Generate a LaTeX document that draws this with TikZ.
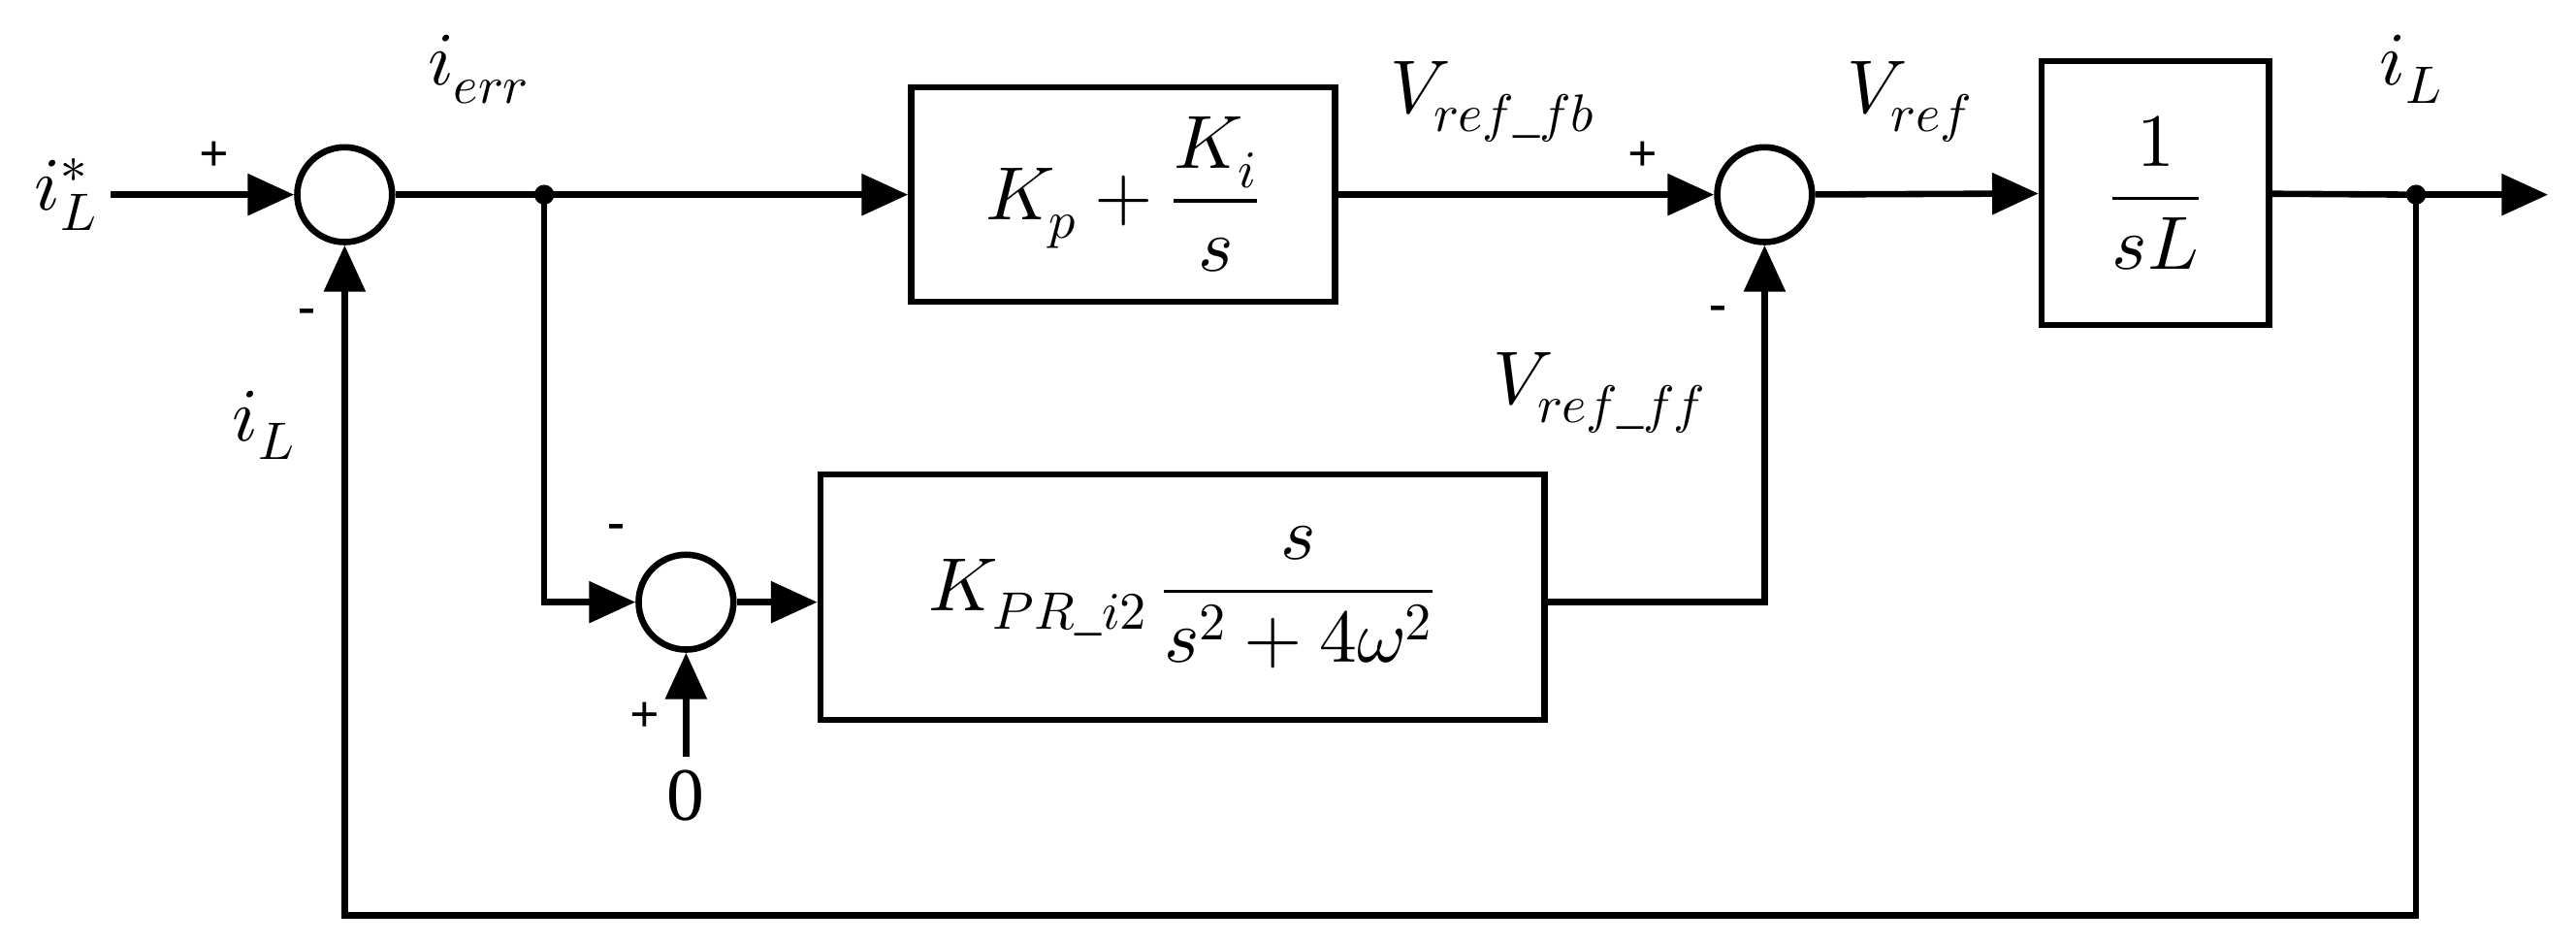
\documentclass[tikz,border=0pt]{standalone}
\usepackage{fontspec}
\setmainfont{Liberation Serif}
\usepackage{unicode-math}
\setmathfont{Latin Modern Math}
\usetikzlibrary{arrows.meta}
\begin{document}
\begin{tikzpicture}[x=0.02cm,y=-0.02cm,line width=2.2pt,
    every node/.style={font=\fontsize{26}{30}\selectfont},
    sum/.style={draw,circle,minimum size=1.15cm,inner sep=0pt},
    blk/.style={draw,rectangle,inner sep=0pt},
    pm/.style={font=\fontsize{18}{20}\selectfont\bfseries},
    arr/.style={-{Triangle[length=16pt,width=14pt]}}]
  \useasboundingbox (0,0) rectangle (1562,572);
  % main path
  \node (in) at (40,118) {$i_L^{*}$};
  \node[sum] (s1) at (209,118) {};
  \coordinate (j1) at (330,118);
  \node[blk,minimum width=5.14cm,minimum height=2.6cm] (pi) at (681,118) {$K_p+\dfrac{K_i}{s}$};
  \node[sum] (s2) at (1070,118) {};
  \node[blk,minimum width=2.76cm,minimum height=3.2cm] (pl) at (1307,117) {$\dfrac{1}{sL}$};
  \coordinate (j2) at (1465,118);
  \coordinate (out) at (1545,118);
  \draw[arr] (in.east) -- (s1);
  \draw (s1) -- (j1);
  \draw[arr] (j1) -- (pi);
  \draw[arr] (pi) -- (s2);
  \draw[arr] (s2) -- (pl);
  \draw (pl) -- (j2);
  \draw[arr] (j2) -- (out);
  \fill (j1) circle (6);
  \fill (j2) circle (6);
  % feedback
  \draw[arr] (j2) -- (1465,555) -- (209,555) -- (s1.south);
  % resonant branch
  \node[sum] (s3) at (416,365) {};
  \node[blk,minimum width=8.78cm,minimum height=2.98cm] (pr) at (717,362) {$K_{PR\_i2}\,\dfrac{s}{s^2+4\omega^2}$};
  \node (zero) at (416,482) {0};
  \draw[arr] (j1) -- (330,365) -- (s3);
  \draw[arr] (s3) -- (pr.west |- s3);
  \draw[arr] (zero.north) -- (s3);
  \draw[arr] (pr.east |- s3) -- (1070,365) -- (s2);
  % labels
  \node at (290,42) {$i_{err}$};
  \node at (905,62) {$V_{ref\_fb}$};
  \node at (1158,62) {$V_{ref}$};
  \node at (1462,42) {$i_L$};
  \node at (970,238) {$V_{ref\_ff}$};
  \node at (160,258) {$i_L$};
  \node[pm] at (130,95) {+};
  \node[pm] at (186,192) {-};
  \node[pm] at (996,95) {+};
  \node[pm] at (1042,190) {-};
  \node[pm] at (374,322) {-};
  \node[pm] at (391,435) {+};
\end{tikzpicture}
\end{document}
